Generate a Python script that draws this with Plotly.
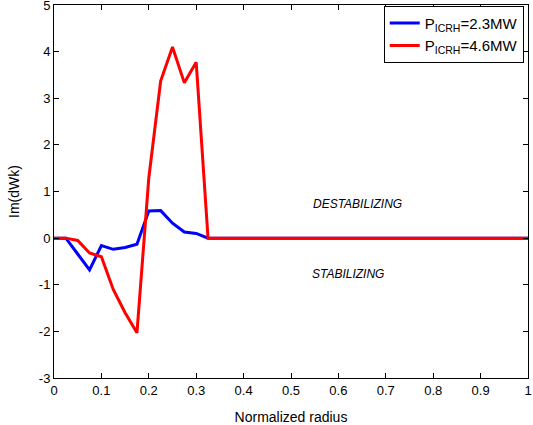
import plotly.graph_objects as go

radius = [0, 0.025, 0.05, 0.075, 0.1, 0.125, 0.15, 0.175, 0.2, 0.225, 0.25, 0.275, 0.3, 0.325, 0.4, 0.5, 0.6, 0.7, 0.8, 0.9, 1.0]
dwk_23 = [0, 0, -0.34, -0.68, -0.16, -0.24, -0.2, -0.13, 0.58, 0.59, 0.32, 0.13, 0.1, 0, 0, 0, 0, 0, 0, 0, 0]
dwk_46 = [0, 0, -0.05, -0.32, -0.4, -1.1, -1.6, -2.03, 1.29, 3.37, 4.1, 3.33, 3.77, 0, 0, 0, 0, 0, 0, 0, 0]

x_ticks = [0, 0.1, 0.2, 0.3, 0.4, 0.5, 0.6, 0.7, 0.8, 0.9, 1]
x_tick_labels = ["0", "0.1", "0.2", "0.3", "0.4", "0.5", "0.6", "0.7", "0.8", "0.9", "1"]
y_ticks = [-3, -2, -1, 0, 1, 2, 3, 4, 5]
y_tick_labels = ["-3", "-2", "-1", "0", "1", "2", "3", "4", "5"]

font = "Liberation Sans, Arial, sans-serif"

fig = go.Figure()
fig.add_trace(go.Scatter(x=radius, y=dwk_23, mode="lines", name="P<sub>ICRH</sub>=2.3MW",
                         line=dict(color="#0000ff", width=3)))
fig.add_trace(go.Scatter(x=radius, y=dwk_46, mode="lines", name="P<sub>ICRH</sub>=4.6MW",
                         line=dict(color="#ff0000", width=3)))

fig.add_annotation(x=0.64, y=0.74, text="<i>DESTABILIZING</i>", showarrow=False,
                   font=dict(family=font, size=12, color="black"))
fig.add_annotation(x=0.62, y=-0.78, text="<i>STABILIZING</i>", showarrow=False,
                   font=dict(family=font, size=12, color="black"))

axis_common = dict(showgrid=False, zeroline=False, showline=True, linecolor="black", linewidth=1,
                   mirror="ticks", ticks="inside", ticklen=5, tickcolor="black", automargin=False,
                   ticklabeloverflow="allow",
                   tickfont=dict(family=font, size=13, color="black"))

fig.update_xaxes(range=[0, 1], tickvals=x_ticks, ticktext=x_tick_labels,
                 title=dict(text="Normalized radius", font=dict(family=font, size=14, color="black")),
                 **axis_common)
fig.update_yaxes(range=[-3, 5], tickvals=y_ticks, ticktext=y_tick_labels,
                 title=dict(text="Im(dWk)", font=dict(family=font, size=14, color="black")),
                 **axis_common)

fig.update_layout(
    width=533, height=425,
    margin=dict(l=54, r=5, t=5, b=47),
    paper_bgcolor="white", plot_bgcolor="white",
    showlegend=True,
    legend=dict(x=0.991, y=0.998, xanchor="right", yanchor="top",
                bgcolor="white", bordercolor="black", borderwidth=1,
                font=dict(family=font, size=15, color="black"),
                tracegroupgap=0, itemwidth=30),
)

fig.write_html("out.html", config={"displayModeBar": False},
               post_script="document.body.style.margin='0px';document.body.style.overflow='hidden';")
